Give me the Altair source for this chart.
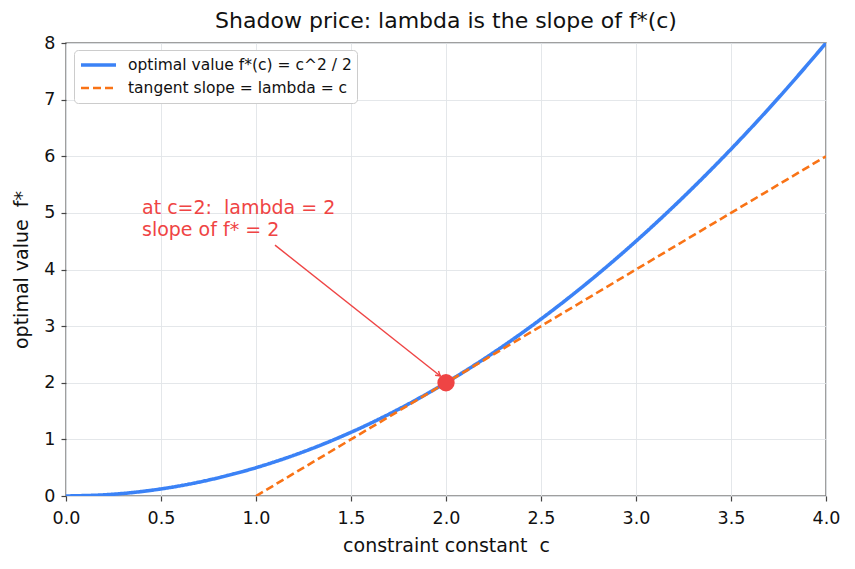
import altair as alt
import pandas as pd

# Optimal value curve f*(c) = c^2 / 2, sampled values
c_vals = [0.0, 0.25, 0.5, 0.75, 1.0, 1.25, 1.5, 1.75, 2.0, 2.25, 2.5, 2.75, 3.0, 3.25, 3.5, 3.75, 4.0]
f_vals = [0.0, 0.03125, 0.125, 0.28125, 0.5, 0.78125, 1.125, 1.53125, 2.0, 2.53125,
          3.125, 3.78125, 4.5, 5.28125, 6.125, 7.03125, 8.0]

# Tangent line at c = 2 (slope lambda = 2)
tan_c = [1.0, 4.0]
tan_f = [0.0, 6.0]

# Touch point and annotation
pt_c = [2.0]
pt_f = [2.0]
arrow_from = (1.1, 4.43)
arrow_to = (1.97, 2.12)
note_pos = (0.4, 4.6)
note_lines = ["at c=2:\u00a0 lambda = 2", "slope of f* = 2"]

S_CURVE = "optimal value f*(c) = c^2 / 2"
S_TAN = "tangent slope = lambda = c"

BLUE = "#3b82f6"
ORANGE = "#f97316"
RED = "#ef4444"
FONT = "DejaVu Sans"

lines = pd.concat([
    pd.DataFrame({"c": c_vals, "f": f_vals, "series": S_CURVE}),
    pd.DataFrame({"c": tan_c, "f": tan_f, "series": S_TAN}),
])

xs = alt.Scale(domain=[0, 4], nice=False, zero=False)
ys = alt.Scale(domain=[0, 8], nice=False)

x_axis = alt.Axis(values=[0, 0.5, 1, 1.5, 2, 2.5, 3, 3.5, 4], format=".1f",
                  title="constraint constant\u00a0 c", labelFlush=False)
y_axis = alt.Axis(values=list(range(0, 9)), format="d", title="optimal value\u00a0 f*",
                  labelFlush=False)

legend = alt.Legend(title=None, orient="none", legendX=8, legendY=7)
series_sort = [S_CURVE, S_TAN]

base_lines = alt.Chart(lines).mark_line(clip=True, interpolate="monotone").encode(
    x=alt.X("c:Q", scale=xs, axis=x_axis),
    y=alt.Y("f:Q", scale=ys, axis=y_axis),
    color=alt.Color("series:N", sort=series_sort,
                    scale=alt.Scale(domain=series_sort, range=[BLUE, ORANGE]),
                    legend=legend),
    strokeDash=alt.StrokeDash("series:N", sort=series_sort,
                              scale=alt.Scale(domain=series_sort, range=[[1, 0], [8, 4]]),
                              legend=legend),
    strokeWidth=alt.StrokeWidth("series:N", sort=series_sort,
                                scale=alt.Scale(domain=series_sort, range=[3.6, 2.6]),
                                legend=legend),
)

dot = alt.Chart(pd.DataFrame({"c": pt_c, "f": pt_f})).mark_circle(
    color=RED, opacity=1, size=300
).encode(x="c:Q", y="f:Q")

arrow_df = pd.DataFrame({"c": [arrow_from[0]], "f": [arrow_from[1]],
                         "c2": [arrow_to[0]], "f2": [arrow_to[1]]})
arrow = alt.Chart(arrow_df).mark_rule(color=RED, strokeWidth=1.4).encode(
    x="c:Q", y="f:Q", x2="c2:Q", y2="f2:Q"
)
head = alt.Chart(pd.DataFrame({"c": [arrow_to[0]], "f": [arrow_to[1]]})).mark_point(
    shape="M -1 -0.6 L 0 0 L -1 0.6", filled=False, color=RED, strokeWidth=1.4,
    size=80, angle=38.4, opacity=1
).encode(x="c:Q", y="f:Q")

note = alt.Chart(pd.DataFrame({"c": [note_pos[0]], "f": [note_pos[1]]})).mark_text(
    text=note_lines, align="left", baseline="alphabetic", color=RED,
    fontSize=19, font=FONT, lineHeight=21.5, dy=-21.5
).encode(x="c:Q", y="f:Q")

chart = alt.layer(base_lines, arrow, head, dot, note).properties(
    width=760, height=453,
    title=alt.TitleParams("Shadow price: lambda is the slope of f*(c)", fontSize=22,
                          font=FONT, fontWeight="normal", color="#111", offset=1),
    autosize=alt.AutoSizeParams(type="none"),
    padding={"left": 66, "top": 43, "right": 29, "bottom": 73},
).configure_view(
    stroke="#808080", strokeWidth=1.5
).configure_axis(
    labelFont=FONT, titleFont=FONT, labelFontSize=17.5, titleFontSize=19,
    labelColor="#111", titleColor="#111", titleFontWeight="normal",
    gridColor="#e1e4e8", gridWidth=0.9, domain=False,
    tickColor="#444", tickSize=5, tickWidth=1.2,
).configure_axisX(labelPadding=8, titlePadding=10).configure_axisY(
    labelPadding=6, titlePadding=12
).configure_legend(
    labelFont=FONT, labelFontSize=15.5, labelColor="#111", symbolType="stroke",
    symbolSize=1225, fillColor="white", strokeColor="#cccccc", cornerRadius=4,
    padding=5, rowPadding=3, clipHeight=20, labelOffset=10, labelLimit=500,
)

chart.save("out.html", embed_options={"renderer": "svg", "actions": False})
